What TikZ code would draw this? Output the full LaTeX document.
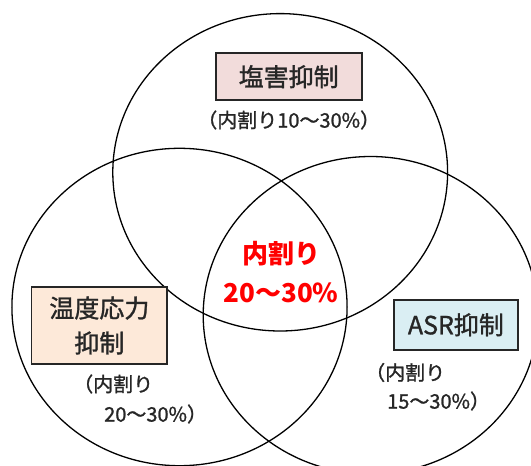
\documentclass[tikz,border=0pt]{standalone}
\usepackage{fontspec}
\setmainfont{Noto Sans CJK JP}
\newfontfamily\jpmed[FakeBold=1.2]{Noto Sans CJK JP}
\definecolor{pinkfill}{HTML}{F2DCDB}
\definecolor{peachfill}{HTML}{FDE9D9}
\definecolor{bluefill}{HTML}{DAEEF3}
\begin{document}
\begin{tikzpicture}[x=1pt,y=-1pt,
  venn/.style={draw=black,line width=1.3pt},
  labelbox/.style={draw=black!85,line width=1.8pt,inner sep=0pt,font=\jpmed\fontsize{25}{35}\selectfont,text=black!85,align=center},
  subtxt/.style={inner sep=0pt,font=\jpmed\fontsize{20}{30}\selectfont,text=black!85},
  centertxt/.style={inner sep=0pt,font=\fontsize{26}{39}\selectfont\bfseries,text=red}]
\useasboundingbox (0,0) rectangle (531,466);
\begin{scope}
\clip (0,0) rectangle (531,466);
\draw[venn] (280.2,172.3) ellipse [x radius=167.4, y radius=158.7];
\draw[venn] (179.5,307) ellipse [x radius=167.6, y radius=158.7];
\draw[venn] (370.6,315.2) ellipse [x radius=167.4, y radius=158.7];
\end{scope}
\node[labelbox,fill=pinkfill,minimum width=146pt,minimum height=47pt] (salt) at (288.7,76.7) {塩害抑制};
\node[subtxt] (saltsub) at (288.7,120) {（内割り10～30\%）};
\node[labelbox,fill=peachfill,minimum width=135.8pt,minimum height=77pt] (temp) at (99.4,325.5) {温度応力\\抑制};
\node[subtxt,anchor=west] (tempsub1) at (73,384) {（内割り};
\node[subtxt,anchor=west] (tempsub2) at (104,414) {20～30\%）};
\node[labelbox,fill=bluefill,minimum width=124.2pt,minimum height=50.1pt] (asr) at (455.9,324.8) {ASR抑制};
\node[subtxt,anchor=west] (asrsub1) at (365,372.5) {（内割り};
\node[subtxt,anchor=west] (asrsub2) at (387,401) {15～30\%）};
\node[centertxt] (center1) at (281,254) {内割り};
\node[centertxt] (center2) at (281,293) {20～30\%};
\end{tikzpicture}
\end{document}
